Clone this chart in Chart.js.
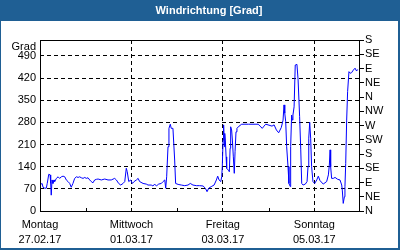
<!DOCTYPE html>
<html>
<head>
<meta charset="utf-8">
<script src="https://cdn.jsdelivr.net/npm/chart.js@4"></script>
<style>
  body { margin: 0; background: #fff; }
  #wrap { width: 400px; height: 250px; }
</style>
</head>
<body>
<div id="wrap"><canvas id="chart" width="400" height="250"></canvas></div>
<script>
// hours since Montag 27.02.17 00:00
const hours = [0.4, 1.1, 1.6, 2.5, 3.3, 3.8, 4.6, 5.3, 5.6, 5.9, 6.3, 6.8, 7.4, 7.7, 8.6, 9.5, 10.3, 11.2, 12.1, 13.0,
  13.8, 14.7, 15.6, 16.4, 17.3, 18.2, 19.1, 20.0, 20.8, 21.7, 22.6, 23.5, 24.3, 25.2, 26.1, 26.9, 27.8, 28.7, 29.6, 30.5,
  32.2, 34.0, 35.7, 37.4, 39.2, 40.1, 41.3, 42.4, 43.6, 44.5, 45.3, 45.8, 46.6, 47.6, 48.5, 49.4, 50.6, 51.5, 52.3, 54.1,
  55.8, 56.7, 58.4, 59.3, 60.2, 61.1, 62.3, 63.7, 64.6, 65.5, 66.0, 66.5, 67.2, 67.7, 68.4, 68.9, 69.8, 70.7, 71.2, 72.5,
  74.2, 76.0, 77.7, 78.9, 80.3, 82.1, 83.8, 85.6, 86.8, 87.7, 88.6, 89.9, 91.4, 92.6, 93.3, 94.0, 94.9, 95.4, 95.7, 96.1,
  96.4, 96.8, 97.0, 97.3, 97.7, 98.0, 98.9, 99.4, 99.8, 100.1, 100.6, 101.0, 101.5, 102.0, 102.4, 102.9, 103.4, 104.5, 105.9, 109.4,
  112.9, 114.6, 115.5, 116.7, 117.6, 118.5, 119.7, 121.8, 122.9, 124.1, 125.3, 126.7, 127.6, 128.1, 128.5, 129.0, 129.5, 130.2, 130.7, 131.4,
  131.6, 132.1, 132.5, 132.8, 133.4, 134.0, 134.9, 135.5, 136.3, 136.9, 137.4, 138.1, 139.3, 140.2, 140.7, 141.1, 141.6, 142.1, 142.6, 143.3,
  144.2, 145.3, 146.1, 147.0, 148.7, 150.5, 151.4, 151.9, 152.3, 152.6, 153.1, 154.0, 154.9, 156.3, 157.5, 158.4, 158.7, 159.2, 159.8, 160.1,
  160.5, 161.0, 161.5, 162.2, 162.9, 163.6, 164.5, 165.4, 166.2, 166.8];
const grad = [84, 87, 75, 72, 72, 87, 116, 114, 87, 50, 98, 87, 98, 93, 103, 108, 103, 108, 110, 108,
  98, 93, 87, 75, 87, 103, 108, 106, 108, 105, 103, 106, 103, 105, 98, 93, 89, 98, 100, 101,
  98, 101, 98, 98, 103, 98, 87, 82, 87, 93, 135, 124, 93, 98, 87, 93, 98, 103, 93, 87,
  85, 82, 82, 79, 85, 79, 85, 87, 93, 98, 72, 108, 203, 261, 274, 261, 261, 161, 87, 84,
  82, 80, 82, 87, 82, 80, 80, 79, 72, 61, 72, 77, 82, 98, 110, 98, 93, 108, 140, 224,
  272, 203, 245, 224, 171, 135, 129, 124, 198, 266, 256, 224, 171, 119, 187, 250, 261, 268, 274, 274,
  274, 274, 268, 261, 268, 274, 272, 268, 272, 256, 247, 264, 287, 335, 309, 282, 203, 140, 87, 77,
  203, 303, 287, 303, 329, 461, 463, 414, 298, 193, 87, 82, 85, 93, 140, 230, 280, 230, 140, 93,
  87, 98, 110, 96, 85, 93, 114, 145, 193, 140, 103, 103, 106, 100, 98, 82, 66, 24, 45, 77,
  150, 287, 377, 440, 435, 437, 445, 451, 442, 447];

const dayTicks = [0, 24, 48, 72, 96, 120, 144, 168];
const dayLabels = [["Montag", "27.02.17"], "", ["Mittwoch", "01.03.17"], "", ["Freitag", "03.03.17"], "", ["Sonntag", "05.03.17"], ""];
const gradTicks = [0, 70, 140, 210, 280, 350, 420, 490];
const dirTicks = [0, 45, 90, 135, 180, 225, 270, 315, 360, 405, 450, 495, 540];
const dirLabels = ["N", "NE", "E", "SE", "S", "SW", "W", "NW", "N", "NE", "E", "SE", "S"];

const font = { family: "'Liberation Sans', Arial, sans-serif", size: 11 };
const BLUE = "#1f5f94";

const frame = {
  id: "frame",
  beforeDraw(chart) {
    const c = chart.ctx;
    c.save();
    c.fillStyle = "#ffffff";
    c.fillRect(0, 0, 400, 250);
    c.fillStyle = BLUE;
    c.fillRect(0, 0, 400, 21);
    c.fillRect(0, 0, 1, 250);
    c.fillRect(398, 0, 2, 250);
    c.fillRect(0, 248, 400, 2);
    c.fillStyle = "#ffffff";
    c.font = "bold 11px 'Liberation Sans', Arial, sans-serif";
    c.textAlign = "center";
    c.textBaseline = "middle";
    c.fillText("Windrichtung [Grad]", 209, 10.5);
    c.restore();
  },
  afterDraw(chart) {
    const c = chart.ctx, a = chart.chartArea, x = chart.scales.x;
    c.save();
    c.strokeStyle = "#000";
    c.lineWidth = 1;
    c.strokeRect(a.left + 0.5, a.top + 0.5, a.right - a.left - 1, a.bottom - a.top);
    c.beginPath();
    [24, 72, 120].forEach(v => {
      const px = Math.round(x.getPixelForValue(v)) + 0.5;
      c.moveTo(px, a.bottom);
      c.lineTo(px, a.bottom - 3);
    });
    c.stroke();
    c.fillStyle = "#000";
    c.font = "11px 'Liberation Sans', Arial, sans-serif";
    c.textAlign = "right";
    c.textBaseline = "middle";
    c.fillText("Grad", 36, 47);
    c.restore();
  }
};

new Chart(document.getElementById("chart"), {
  type: "line",
  data: {
    datasets: [{
      data: hours.map((h, i) => ({ x: h, y: grad[i] })),
      borderColor: "#0000ff",
      borderWidth: 1,
      pointRadius: 0,
      tension: 0,
      yAxisID: "y"
    }]
  },
  options: {
    responsive: false,
    animation: false,
    events: [],
    layout: { padding: { top: 40, left: 0, right: 0, bottom: 0 } },
    plugins: { legend: { display: false }, tooltip: { enabled: false } },
    scales: {
      x: {
        type: "linear", min: 0, max: 168,
        afterBuildTicks: s => { s.ticks = dayTicks.map(v => ({ value: v })); },
        afterFit: s => { s.height = 39; },
        ticks: {
          autoSkip: false, maxRotation: 0, padding: 6, color: "#000",
          font: { ...font, lineHeight: 1.4 },
          callback: (v, i) => dayLabels[i]
        },
        grid: {
          drawTicks: false,
          color: ctx => (ctx.tick && [48, 96, 144].includes(ctx.tick.value)) ? "#000" : "rgba(0,0,0,0)"
        },
        border: { display: false, dash: [4, 3] }
      },
      y: {
        position: "left", min: 0, max: 540,
        afterBuildTicks: s => { s.ticks = gradTicks.map(v => ({ value: v })); },
        afterFit: s => { s.width = 40; },
        ticks: { autoSkip: false, padding: 4, color: "#000", font },
        grid: { drawTicks: false, color: ctx => (ctx.tick && ctx.tick.value > 0) ? "#000" : "rgba(0,0,0,0)" },
        border: { display: false, dash: [4, 3] }
      },
      y2: {
        position: "right", min: 0, max: 540,
        afterBuildTicks: s => { s.ticks = dirTicks.map(v => ({ value: v })); },
        afterFit: s => { s.width = 40; },
        ticks: { autoSkip: false, padding: 1, color: "#000", font, callback: (v, i) => dirLabels[i] },
        grid: { drawOnChartArea: false, drawTicks: true, tickLength: 4, color: "#000" },
        border: { display: false }
      }
    }
  },
  plugins: [frame]
});
</script>
</body>
</html>
